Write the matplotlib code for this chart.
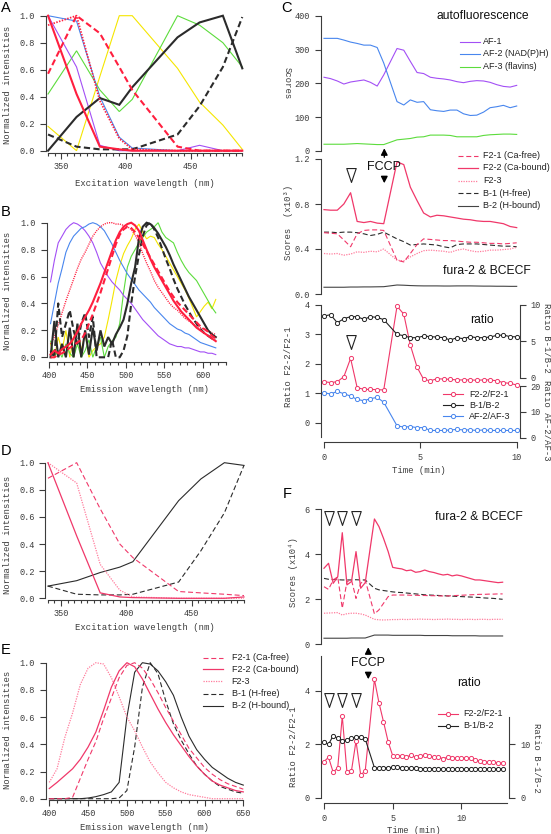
import matplotlib
matplotlib.use('Agg')
import matplotlib.pyplot as plt
from matplotlib.lines import Line2D
from matplotlib.patches import FancyArrowPatch
from matplotlib.path import Path

plt.rcParams['font.family'] = ['Liberation Mono', 'DejaVu Sans Mono']

W, H = 551, 834
fig = plt.figure(figsize=(W / 100, H / 100), dpi=100)

# ---------------- data ----------------
exc_wl = [340, 362, 380, 395, 405, 440, 457, 475, 490]
A_af1 = [1.0, 0.62, 0.04, 0.0, 0.0, 0.0, 0.04, 0.0, 0.0]
A_af2 = [1.0, 0.96, 0.40, 0.10, 0.02, 0.0, 0.0, 0.0, 0.0]
A_af3 = [0.42, 0.74, 0.45, 0.29, 0.38, 1.0, 0.93, 0.80, 0.62]
A_yel = [0.18, 0.0, 0.55, 1.0, 1.0, 0.61, 0.36, 0.19, 0.01]
A_f21 = [0.57, 1.0, 0.87, 0.62, 0.45, 0.03, 0.0, 0.0, 0.0]
A_f22 = [1.0, 0.42, 0.03, 0.01, 0.0, 0.0, 0.0, 0.0, 0.0]
A_f23 = [0.93, 1.0, 0.37, 0.09, 0.01, 0.0, 0.0, 0.0, 0.0]
A_b1 = [0.12, 0.03, 0.01, 0.01, 0.01, 0.12, 0.33, 0.62, 0.99]
A_b2 = [0.0, 0.25, 0.39, 0.34, 0.47, 0.84, 0.95, 1.0, 0.61]

em_wl = [402, 407, 412, 417, 422, 427, 432, 437, 442, 447,
         452, 457, 462, 467, 472, 477, 482, 487, 492, 497,
         502, 507, 512, 517, 522, 527, 532, 537, 542, 547,
         552, 557, 562, 567, 572, 577, 582, 587, 592, 597,
         602, 607, 612, 617]
B_af1 = [0.56, 0.72, 0.85, 0.90, 0.95, 0.98, 1.00, 0.99, 0.97, 0.94,
         0.90, 0.85, 0.78, 0.70, 0.65, 0.60, 0.56, 0.53, 0.50, 0.46,
         0.43, 0.40, 0.36, 0.32, 0.28, 0.25, 0.22, 0.19, 0.16, 0.14,
         0.12, 0.10, 0.09, 0.08, 0.08, 0.07, 0.07, 0.06, 0.05, 0.04,
         0.04, 0.03, 0.03, 0.02]
B_af2 = [0.25, 0.40, 0.55, 0.66, 0.78, 0.85, 0.90, 0.93, 0.96, 0.97,
         0.99, 1.00, 0.99, 0.97, 0.94, 0.89, 0.84, 0.78, 0.72, 0.67,
         0.62, 0.58, 0.54, 0.50, 0.47, 0.44, 0.41, 0.37, 0.34, 0.31,
         0.28, 0.25, 0.23, 0.21, 0.20, 0.18, 0.17, 0.15, 0.13, 0.11,
         0.10, 0.09, 0.08, 0.07]
B_af3 = [0.12, 0.00, 0.05, 0.00, 0.10, 0.03, 0.00, 0.10, 0.00, 0.05,
         0.13, 0.00, 0.08, 0.15, 0.00, 0.08, 0.12, 0.15, 0.25, 0.48,
         0.67, 0.75, 0.80, 0.85, 0.89, 0.93, 0.95, 0.97, 1.00, 0.93,
         0.89, 0.87, 0.85, 0.78, 0.72, 0.67, 0.63, 0.60, 0.57, 0.52,
         0.47, 0.42, 0.37, 0.33]
B_yel = [0.10, 0.00, 0.15, 0.05, 0.20, 0.00, 0.15, 0.22, 0.05, 0.18,
         0.00, 0.05, 0.08, 0.10, 0.15, 0.28, 0.42, 0.57, 0.68, 0.77,
         0.83, 0.88, 0.95, 0.99, 0.93, 0.88, 0.90, 0.89, 0.84, 0.80,
         0.75, 0.70, 0.65, 0.60, 0.55, 0.50, 0.44, 0.37, 0.30, 0.34,
         0.38, 0.41, 0.36, 0.43]
B_f21 = [0.00, 0.00, 0.02, 0.03, 0.05, 0.07, 0.09, 0.11, 0.13, 0.18,
         0.25, 0.32, 0.40, 0.48, 0.57, 0.66, 0.75, 0.84, 0.91, 0.95,
         0.97, 0.96, 0.93, 0.89, 0.84, 0.79, 0.74, 0.69, 0.64, 0.59,
         0.54, 0.49, 0.45, 0.41, 0.38, 0.35, 0.32, 0.29, 0.26, 0.23,
         0.21, 0.19, 0.16, 0.14]
B_f22 = [0.02, 0.05, 0.03, 0.06, 0.08, 0.10, 0.14, 0.19, 0.25, 0.30,
         0.35, 0.41, 0.48, 0.55, 0.63, 0.71, 0.79, 0.87, 0.93, 0.97,
         0.99, 1.00, 0.98, 0.94, 0.87, 0.80, 0.73, 0.67, 0.62, 0.57,
         0.52, 0.47, 0.42, 0.38, 0.34, 0.31, 0.28, 0.25, 0.22, 0.20,
         0.18, 0.16, 0.14, 0.12]
B_f23 = [0.10, 0.15, 0.24, 0.33, 0.42, 0.50, 0.58, 0.66, 0.73, 0.78,
         0.84, 0.90, 0.94, 0.97, 0.99, 1.00, 1.00, 0.99, 0.99, 0.98,
         0.97, 0.95, 0.91, 0.85, 0.77, 0.70, 0.64, 0.57, 0.52, 0.48,
         0.44, 0.40, 0.37, 0.35, 0.32, 0.29, 0.27, 0.25, 0.23, 0.22,
         0.21, 0.20, 0.18, 0.17]
B_b1 = [0.05, 0.00, 0.40, 0.15, 0.25, 0.35, 0.20, 0.10, 0.25, 0.33,
        0.15, 0.30, 0.00, 0.00, 0.00, 0.00, 0.13, 0.00, 0.00, 0.05,
        0.16, 0.40, 0.60, 0.76, 0.90, 0.98, 1.00, 0.95, 0.89, 0.81,
        0.73, 0.66, 0.58, 0.51, 0.45, 0.39, 0.34, 0.29, 0.25, 0.21,
        0.18, 0.16, 0.14, 0.13]
B_b2 = [0.00, 0.27, 0.00, 0.10, 0.00, 0.22, 0.00, 0.25, 0.00, 0.20,
        0.02, 0.22, 0.05, 0.20, 0.08, 0.15, 0.10, 0.17, 0.22, 0.28,
        0.40, 0.55, 0.67, 0.88, 0.97, 1.00, 0.99, 0.96, 0.92, 0.87,
        0.82, 0.76, 0.69, 0.63, 0.57, 0.51, 0.45, 0.40, 0.35, 0.30,
        0.25, 0.20, 0.17, 0.15]

tC = [0.00, 0.34, 0.69, 1.03, 1.38, 1.72, 2.07, 2.41, 2.76, 3.10,
      3.79, 4.14, 4.48, 4.83, 5.17, 5.52, 5.86, 6.21, 6.55, 6.90,
      7.24, 7.59, 7.93, 8.28, 8.62, 8.97, 9.31, 9.66, 10.00]
C_af1 = [218, 214, 207, 198, 204, 207, 210, 203, 192, 225, 303, 298, 265, 232, 229,
         218, 215, 213, 210, 205, 202, 206, 208, 207, 203, 196, 191, 189, 194]
C_af2 = [333, 333, 333, 328, 322, 318, 313, 313, 306, 260, 146, 136, 151, 144, 146,
         122, 119, 117, 121, 121, 110, 105, 106, 115, 128, 131, 135, 128, 133]
C_af3 = [20, 20, 20, 20, 21, 22, 21, 20, 19, 19, 33, 35, 37, 41, 42,
         47, 47, 47, 46, 42, 42, 42, 42, 46, 48, 49, 50, 50, 49]
C_f21 = [0.545, 0.54, 0.535, 0.48, 0.42, 0.535, 0.565, 0.57, 0.57, 0.565, 0.30, 0.285,
         0.36, 0.44, 0.49, 0.485, 0.48, 0.475, 0.475, 0.47, 0.465, 0.46, 0.46, 0.455,
         0.45, 0.45, 0.445, 0.45, 0.455]
C_f22 = [0.75, 0.745, 0.745, 0.80, 0.90, 0.645, 0.635, 0.645, 0.63, 0.625, 1.175, 1.15,
         0.95, 0.83, 0.72, 0.685, 0.70, 0.695, 0.685, 0.675, 0.665, 0.66, 0.65, 0.645,
         0.645, 0.635, 0.625, 0.60, 0.59]
C_f23 = [0.36, 0.355, 0.36, 0.345, 0.355, 0.375, 0.37, 0.38, 0.375, 0.40, 0.30, 0.295,
         0.33, 0.36, 0.385, 0.39, 0.385, 0.38, 0.37, 0.39, 0.40, 0.385, 0.375, 0.38,
         0.39, 0.39, 0.395, 0.40, 0.415]
C_b1 = [0.55, 0.55, 0.545, 0.55, 0.55, 0.545, 0.535, 0.52, 0.53, 0.55, 0.49, 0.465,
        0.435, 0.44, 0.445, 0.44, 0.435, 0.42, 0.41, 0.44, 0.445, 0.445, 0.445, 0.44,
        0.435, 0.43, 0.425, 0.425, 0.42]
C_b2 = [0.06, 0.06, 0.06, 0.06, 0.062, 0.062, 0.063, 0.063, 0.064, 0.065, 0.08, 0.078,
        0.075, 0.073, 0.072, 0.072, 0.072, 0.071, 0.071, 0.072, 0.072, 0.072, 0.071,
        0.070, 0.070, 0.069, 0.069, 0.068, 0.068]
C_rf = [1.39, 1.36, 1.39, 1.56, 2.18, 1.19, 1.13, 1.13, 1.12, 1.11, 3.95, 3.68, 2.63,
        1.88, 1.47, 1.42, 1.49, 1.48, 1.47, 1.45, 1.45, 1.45, 1.44, 1.45, 1.45, 1.42,
        1.36, 1.33, 1.28]
C_rb = [8.45, 8.63, 7.53, 8.08, 8.36, 8.36, 7.99, 8.36, 8.26, 7.95, 5.94, 5.75, 5.48,
        5.48, 5.71, 5.62, 5.57, 5.48, 5.16, 5.48, 5.34, 5.62, 5.48, 5.48, 5.57, 5.80,
        5.84, 5.62, 5.60]
C_raf = [17.4, 16.9, 17.9, 17.0, 16.1, 14.8, 14.3, 15.1, 15.6, 13.7, 4.6, 4.1, 4.3,
         3.9, 3.9, 2.8, 2.8, 2.8, 3.0, 3.2, 3.0, 3.0, 2.8, 3.0, 2.8, 2.8, 2.8, 2.8, 2.8]

D_f21 = [0.885, 1.0, 0.66, 0.40, 0.30, 0.05, 0.04, 0.03, 0.02]
D_f22 = [1.0, 0.46, 0.04, 0.01, 0.005, 0.0, 0.0, 0.0, 0.01]
D_f23 = [1.0, 0.85, 0.25, 0.06, 0.01, 0.0, 0.0, 0.0, 0.0]
D_b1 = [0.09, 0.03, 0.025, 0.025, 0.03, 0.12, 0.35, 0.63, 0.98]
D_b2 = [0.09, 0.13, 0.19, 0.23, 0.27, 0.72, 0.88, 1.0, 0.98]

em2_wl = [400, 410, 420, 430, 440, 450, 460, 470, 480, 490, 500, 510, 520,
          530, 540, 550, 560, 570, 580, 590, 600, 610, 620, 630, 640, 650]
E_f21 = [0.0, 0.0, 0.0, 0.01, 0.15, 0.29, 0.42, 0.59, 0.74, 0.89, 0.98, 1.0, 0.96,
         0.88, 0.78, 0.67, 0.57, 0.47, 0.37, 0.30, 0.23, 0.18, 0.14, 0.11, 0.09, 0.07]
E_f22 = [0.075, 0.12, 0.17, 0.22, 0.29, 0.38, 0.49, 0.65, 0.82, 0.94, 1.0, 0.97, 0.88,
         0.77, 0.66, 0.56, 0.47, 0.39, 0.31, 0.24, 0.18, 0.13, 0.10, 0.08, 0.06, 0.05]
E_f23 = [0.12, 0.22, 0.45, 0.63, 0.84, 0.96, 1.0, 0.99, 0.89, 0.75, 0.60, 0.50, 0.38,
         0.27, 0.19, 0.12, 0.08, 0.05, 0.03, 0.02, 0.01, 0.0, 0.0, 0.0, 0.0, 0.0]
E_b1 = [0.0, 0.0, 0.0, 0.0, 0.0, 0.0, 0.0, 0.0, 0.0, 0.005, 0.06, 0.38, 0.82,
        1.0, 0.92, 0.72, 0.55, 0.43, 0.33, 0.24, 0.18, 0.13, 0.09, 0.07, 0.05, 0.04]
E_b2 = [0.0, 0.0, 0.0, 0.0, 0.0, 0.005, 0.015, 0.03, 0.05, 0.12, 0.60, 0.93, 1.0,
        0.99, 0.94, 0.86, 0.76, 0.60, 0.46, 0.36, 0.29, 0.23, 0.19, 0.15, 0.12, 0.10]

tF = [0.00, 0.33, 0.67, 1.00, 1.33, 1.67, 2.00, 2.33, 2.67, 3.00,
      3.67, 4.00, 4.33, 4.67, 5.00, 5.33, 5.67, 6.00, 6.33, 6.67,
      7.00, 7.33, 7.67, 8.00, 8.33, 8.67, 9.00, 9.33, 9.67, 10.00,
      10.33, 10.67, 11.00, 11.33, 11.67, 12.00, 12.33, 12.67, 13.00]
F_f22 = [3.38, 3.60, 2.71, 3.00, 4.96, 2.64, 2.79, 4.12, 2.49, 2.74, 5.57, 5.23, 4.71,
         4.12, 3.42, 3.38, 3.35, 3.27, 3.30, 3.20, 3.23, 3.30, 3.23, 3.19, 3.13, 3.08,
         3.11, 3.04, 3.08, 3.04, 2.98, 2.92, 2.86, 2.86, 2.83, 2.80, 2.77, 2.74, 2.76]
F_f21 = [2.56, 2.44, 2.86, 3.00, 1.60, 2.79, 2.86, 2.04, 2.71, 2.86, 1.35, 1.53, 1.82,
         2.12, 2.19, 2.19, 2.19, 2.19, 2.18, 2.18, 2.17, 2.17, 2.16, 2.16, 2.15, 2.15,
         2.15, 2.16, 2.17, 2.18, 2.19, 2.20, 2.21, 2.22, 2.22, 2.23, 2.23, 2.24, 2.24]
F_f23 = [1.38, 1.39, 1.40, 1.41, 1.30, 1.36, 1.38, 1.38, 1.35, 1.30, 1.11, 1.09, 1.08,
         1.09, 1.10, 1.10, 1.11, 1.10, 1.11, 1.11, 1.12, 1.11, 1.11, 1.10, 1.11, 1.11,
         1.12, 1.11, 1.11, 1.10, 1.11, 1.11, 1.10, 1.11, 1.11, 1.10, 1.11, 1.11, 1.11]
F_b1 = [2.93, 2.89, 2.88, 2.87, 2.86, 2.86, 2.86, 2.87, 2.86, 2.86, 2.49, 2.42, 2.39,
        2.36, 2.33, 2.31, 2.30, 2.28, 2.26, 2.24, 2.22, 2.20, 2.19, 2.18, 2.17, 2.16,
        2.15, 2.14, 2.13, 2.12, 2.11, 2.10, 2.09, 2.08, 2.06, 2.05, 2.04, 2.02, 2.00]
F_b2 = [0.27, 0.27, 0.27, 0.27, 0.27, 0.27, 0.28, 0.28, 0.28, 0.28, 0.41, 0.41, 0.41,
        0.41, 0.40, 0.40, 0.40, 0.40, 0.40, 0.40, 0.40, 0.39, 0.39, 0.39, 0.39, 0.39,
        0.39, 0.38, 0.38, 0.38, 0.38, 0.38, 0.38, 0.37, 0.37, 0.37, 0.37, 0.37, 0.37]
F_rf = [1.35, 1.51, 0.95, 1.12, 3.05, 0.95, 1.01, 2.12, 0.85, 1.00, 4.42, 3.55, 2.84,
        2.09, 1.57, 1.56, 1.56, 1.53, 1.58, 1.51, 1.56, 1.60, 1.56, 1.51, 1.51, 1.46,
        1.51, 1.47, 1.50, 1.47, 1.50, 1.47, 1.41, 1.37, 1.35, 1.32, 1.32, 1.31, 1.28]
F_rb = [10.3, 9.94, 11.55, 11.06, 10.62, 10.75, 11.06, 11.3, 11.37, 10.93, 5.59, 5.47,
        5.59, 5.59, 5.65, 5.65, 5.59, 5.53, 5.47, 5.47, 5.40, 5.40, 5.40, 5.40, 5.34,
        5.34, 5.34, 5.34, 5.34, 5.34, 5.34, 5.34, 5.34, 5.34, 5.34, 5.34, 5.34, 5.34, 5.34]

# ---------------- style ----------------
INK = '#3c3c3c'
SANS = ['Liberation Sans', 'DejaVu Sans']
TICK_FS = 6.2
LAB_FS = 6.4
PURPLE = '#a34ff5'
BLUE = '#4886ee'
GREEN = '#5cdc3c'
YELLOW = '#f5e600'
RED = '#ff1f3f'
DARK = '#2b2b2b'
PINK = '#f0386a'
LPINK = '#ff7d9d'


def lin(v, v1, p1, v2, p2):
    return p1 + (v - v1) * (p2 - p1) / (v2 - v1)


def px2v(p, ref):
    return lin(p, ref[1], ref[0], ref[3], ref[2])


def style(ax, clear_x=True):
    ax.patch.set_visible(False)
    for s in ax.spines.values():
        s.set_visible(False)
        s.set_color(INK)
        s.set_linewidth(0.8)
    ax.tick_params(which='both', direction='out', color=INK, labelcolor=INK,
                   labelsize=TICK_FS, width=0.8)
    ax.tick_params(which='major', length=4.3)
    ax.tick_params(which='minor', length=2.2)
    ax.tick_params(axis='y', pad=3.5)
    ax.tick_params(axis='x', pad=2.5)
    if clear_x:
        ax.set_xticks([])
    ax.set_yticks([])


def make_ax(xl, xref, top, bot, yref):
    left = lin(xl[0], *xref)
    right = lin(xl[1], *xref)
    ax = fig.add_axes([left / W, 1 - bot / H, (right - left) / W, (bot - top) / H])
    ax.set_xlim(xl)
    ax.set_ylim(px2v(bot, yref), px2v(top, yref))
    style(ax)
    return ax


def left_axis(ax, lo, hi, ticks, labels):
    ax.spines['left'].set_visible(True)
    ax.spines['left'].set_bounds(lo, hi)
    ax.set_yticks(ticks)
    ax.set_yticklabels(labels)


def right_axis(ax, lo, hi, ticks, labels):
    ax.spines['right'].set_visible(True)
    ax.spines['right'].set_bounds(lo, hi)
    ax.yaxis.tick_right()
    ax.set_yticks(ticks)
    ax.set_yticklabels(labels)


def bottom_axis(ax, lo, hi, ticks, labels, minor=None):
    ax.spines['bottom'].set_visible(True)
    ax.spines['bottom'].set_bounds(lo, hi)
    ax.set_xticks(ticks)
    ax.set_xticklabels(labels)
    if minor is not None:
        ax.set_xticks(minor, minor=True)


def ftext(x, y, s, **kw):
    kw.setdefault('ha', 'center')
    kw.setdefault('va', 'center')
    kw.setdefault('color', INK)
    fig.text(x / W, 1 - y / H, s, **kw)


MS = 3.0


def leg_entry(x0, x1, xt, y, label, marker=None, **kw):
    fig.add_artist(Line2D([x0 / W, x1 / W], [1 - y / H, 1 - y / H],
                          transform=fig.transFigure, **kw))
    if marker:
        fig.add_artist(Line2D([(x0 + x1) / 2 / W], [1 - y / H], transform=fig.transFigure,
                              marker='o', ms=MS, mfc='white', mew=0.7,
                              mec=kw.get('color', 'k'), ls='none'))
    ftext(xt, y, label, ha='left', fontsize=6.5, family=SANS, color='#222222')


def arrow(x, y0, y1):
    fig.add_artist(FancyArrowPatch((x / W, 1 - y0 / H), (x / W, 1 - y1 / H),
                                   transform=fig.transFigure,
                                   arrowstyle='-|>,head_length=0.55,head_width=0.28',
                                   mutation_scale=7, lw=1.0, color='black'))


TRI = Path([(-0.34, 0.5), (0.34, 0.5), (0.0, -0.5), (-0.34, 0.5)],
           [Path.MOVETO, Path.LINETO, Path.LINETO, Path.CLOSEPOLY])


def tri(ax, x, y):
    ax.plot([x], [y], marker=TRI, ms=10, mfc='white', mec='#222222', mew=0.8,
            ls='none', clip_on=False)


wl_ticks = ['%d' % v for v in [350, 400, 450]]
yt01 = [0, 0.2, 0.4, 0.6, 0.8, 1.0]
yt01_lab = ['0.0', '0.2', '0.4', '0.6', '0.8', '1.0']

# ---------------- panel A ----------------
axA = make_ax((338.1, 492), (350, 61, 450, 190.5), 12, 153, (0, 150.7, 1, 15.7))
left_axis(axA, 0, 1, yt01, yt01_lab)
bottom_axis(axA, 340, 490, [350, 400, 450], wl_ticks, minor=list(range(340, 491, 5)))
kwA = dict(clip_on=False, solid_joinstyle='miter')
axA.plot(exc_wl, A_yel, color=YELLOW, lw=0.8, **kwA)
axA.plot(exc_wl, A_af3, color=GREEN, lw=0.8, **kwA)
axA.plot(exc_wl, A_af1, color=PURPLE, lw=0.8, **kwA)
axA.plot(exc_wl, A_af2, color=BLUE, lw=0.8, **kwA)
axA.plot(exc_wl, A_b1, color=DARK, lw=1.5, dashes=(3, 1.6), **kwA)
axA.plot(exc_wl, A_b2, color=DARK, lw=1.5, **kwA)
axA.plot(exc_wl, A_f21, color=RED, lw=1.5, dashes=(3, 1.6), **kwA)
axA.plot(exc_wl, A_f23, color=RED, lw=1.3, dashes=(0.8, 0.8), **kwA)
axA.plot(exc_wl, A_f22, color=RED, lw=1.5, **kwA)
ftext(7.3, 85, 'Normalized intensities', rotation=90, fontsize=LAB_FS)
ftext(145, 183, 'Excitation wavelength (nm)', fontsize=LAB_FS)

# ---------------- panel B ----------------
axB = make_ax((397, 632), (400, 49, 600, 202.7), 218, 361.7, (0, 357.3, 1, 222.7))
left_axis(axB, 0, 1, yt01, yt01_lab)
bottom_axis(axB, 400, 630, [400, 450, 500, 550, 600], ['400', '450', '500', '550', '600'],
            minor=list(range(400, 631, 10)))
axB.plot(em_wl, B_yel, color=YELLOW, lw=0.8, **kwA)
axB.plot(em_wl, B_af3, color=GREEN, lw=0.8, **kwA)
axB.plot(em_wl, B_af1, color=PURPLE, lw=0.8, **kwA)
axB.plot(em_wl, B_af2, color=BLUE, lw=0.8, **kwA)
axB.plot(em_wl, B_f23, color=RED, lw=1.0, dashes=(0.8, 0.8), **kwA)
axB.plot(em_wl, B_b1, color=DARK, lw=1.5, dashes=(3, 1.6), **kwA)
axB.plot(em_wl, B_b2, color=DARK, lw=1.5, **kwA)
axB.plot(em_wl, B_f21, color=RED, lw=1.5, dashes=(3, 1.6), **kwA)
axB.plot(em_wl, B_f22, color=RED, lw=1.5, **kwA)
ftext(7.3, 291, 'Normalized intensities', rotation=90, fontsize=LAB_FS)
ftext(145, 390, 'Emission wavelength (nm)', fontsize=LAB_FS)

# ---------------- panel D ----------------
axD = make_ax((338.1, 492), (350, 61, 450, 191.7), 458, 600, (0, 598.3, 1, 462.7))
left_axis(axD, 0, 1, yt01, yt01_lab)
bottom_axis(axD, 340, 490, [350, 400, 450], wl_ticks, minor=list(range(340, 491, 5)))
axD.plot(exc_wl, D_b1, color=DARK, lw=0.8, dashes=(4.5, 2.5), **kwA)
axD.plot(exc_wl, D_b2, color=DARK, lw=0.8, **kwA)
axD.plot(exc_wl, D_f23, color=LPINK, lw=0.9, dashes=(1, 1), **kwA)
axD.plot(exc_wl, D_f21, color=PINK, lw=0.8, dashes=(4.5, 2.5), **kwA)
axD.plot(exc_wl, D_f22, color=PINK, lw=0.9, **kwA)
ftext(7.3, 535, 'Normalized intensities', rotation=90, fontsize=LAB_FS)
ftext(145, 627, 'Excitation wavelength (nm)', fontsize=LAB_FS)

# ---------------- panel E ----------------
axE = make_ax((395.4, 652), (400, 49.3, 650, 243.3), 658, 800, (0, 798.7, 1, 662.7))
left_axis(axE, 0, 1, yt01, yt01_lab)
bottom_axis(axE, 400, 650, [400, 450, 500, 550, 600, 650],
            ['400', '450', '500', '550', '600', '650'], minor=list(range(400, 651, 10)))
axE.plot(em2_wl, E_b1, color=DARK, lw=0.8, dashes=(4.5, 2.5), **kwA)
axE.plot(em2_wl, E_b2, color=DARK, lw=0.8, **kwA)
axE.plot(em2_wl, E_f23, color=LPINK, lw=0.9, dashes=(1, 1), **kwA)
axE.plot(em2_wl, E_f21, color=PINK, lw=0.8, dashes=(4.5, 2.5), **kwA)
axE.plot(em2_wl, E_f22, color=PINK, lw=0.9, **kwA)
ftext(7.3, 730, 'Normalized intensities', rotation=90, fontsize=LAB_FS)
ftext(145, 827.5, 'Emission wavelength (nm)', fontsize=LAB_FS)
legE = [('F2-1 (Ca-free)', dict(color=PINK, lw=0.8, dashes=(4.5, 2.5))),
        ('F2-2 (Ca-bound)', dict(color=PINK, lw=0.9)),
        ('F2-3', dict(color=LPINK, lw=0.9, dashes=(1, 1))),
        ('B-1 (H-free)', dict(color=DARK, lw=0.8, dashes=(4.5, 2.5))),
        ('B-2 (H-bound)', dict(color=DARK, lw=0.8))]
for (lab, kw), y in zip(legE, [657.7, 669.3, 681.3, 693.5, 705.7]):
    leg_entry(203, 223, 231.5, y, lab, **kw)

# ---------------- panel C ----------------
xC = (-0.17, 10.17)
refCx = (0, 324, 10, 516.7)
axC1 = make_ax(xC, refCx, 10, 153, (0, 151, 400, 15.7))
left_axis(axC1, 0, 400, [0, 100, 200, 300, 400], ['0', '100', '200', '300', '400'])
axC1.plot(tC, C_af1, color=PURPLE, lw=0.8, clip_on=False)
axC1.plot(tC, C_af2, color=BLUE, lw=0.8, clip_on=False)
axC1.plot(tC, C_af3, color=GREEN, lw=0.8, clip_on=False)
ftext(286.7, 83, 'Scores', rotation=270, fontsize=LAB_FS)
ftext(436.7, 16, 'autofluorescence', ha='left', fontsize=8.7, family=SANS, color='#111111')
for (lab, col), y in zip([('AF-1', PURPLE), ('AF-2 (NAD(P)H)', BLUE), ('AF-3 (flavins)', GREEN)],
                         [41.7, 53.7, 66.7]):
    leg_entry(460, 480, 483.3, y, lab, color=col, lw=0.8)

axC2 = make_ax(xC, refCx, 152, 296, (0, 294, 1.2, 159))
left_axis(axC2, 0, 1.2, [0, 0.4, 0.8, 1.2], ['0.0', '0.4', '0.8', '1.2'])
axC2.plot(tC, C_b2, color='#444444', lw=0.8, clip_on=False)
axC2.plot(tC, C_b1, color=DARK, lw=0.8, dashes=(4.5, 2.5), clip_on=False)
axC2.plot(tC, C_f23, color=LPINK, lw=0.9, dashes=(1, 1), clip_on=False)
axC2.plot(tC, C_f21, color=PINK, lw=0.8, dashes=(4.5, 2.5), clip_on=False)
axC2.plot(tC, C_f22, color=PINK, lw=0.9, clip_on=False)
tri(axC2, tC[4], 1.058)
ftext(288.3, 222, 'Scores  (x10\u00b3)', rotation=90, fontsize=LAB_FS)
ftext(443.3, 271, 'fura-2 & BCECF', ha='left', fontsize=8.7, family=SANS, color='#111111')
legC = [('F2-1 (Ca-free)', dict(color=PINK, lw=0.8, dashes=(4.5, 2.5))),
        ('F2-2 (Ca-bound)', dict(color=PINK, lw=0.9)),
        ('F2-3', dict(color=LPINK, lw=0.9, dashes=(1, 1))),
        ('B-1 (H-free)', dict(color=DARK, lw=0.8, dashes=(4.5, 2.5))),
        ('B-2 (H-bound)', dict(color='#444444', lw=0.8))]
for (lab, kw), y in zip(legC, [155.7, 167.7, 180.7, 193.3, 206]):
    leg_entry(458.3, 478.3, 483.3, y, lab, **kw)
ftext(383.5, 167.5, 'FCCP', fontsize=9, family=SANS, color='#111111')
arrow(384.3, 160, 145.5)
arrow(384.3, 175.5, 186)

refC3 = (0, 422.7, 4, 304.7)
axC3 = make_ax(xC, refCx, 298, 441.7, refC3)
left_axis(axC3, -0.47, 4, [0, 1, 2, 3, 4], ['0', '1', '2', '3', '4'])
bottom_axis(axC3, 0, 10, [0, 5, 10], ['0', '5', '10'])
axC3.tick_params(axis='x', pad=3.5)
mk = dict(marker='o', ms=MS, mfc='white', mew=0.7, clip_on=False, lw=0.8)
axC3.plot(tC, C_rf, color=PINK, mec=PINK, **mk)
tri(axC3, tC[4], 2.75)
axC3b = axC3.twinx()
style(axC3b, clear_x=False)
refB = (0, 377.7, 10, 304.7)
axC3b.set_ylim(px2v(441.7, refB), px2v(298, refB))
right_axis(axC3b, 0, 10, [0, 5, 10], ['0', '5', '10'])
axC3b.plot(tC, C_rb, color='#222222', mec='#222222', **mk)
axC3c = axC3.twinx()
style(axC3c, clear_x=False)
refAF = (0, 437.7, 20, 386)
axC3c.set_ylim(px2v(441.7, refAF), px2v(298, refAF))
right_axis(axC3c, 0, 20, [0, 10, 20], ['0', '10', '20'])
axC3c.plot(tC, C_raf, color=BLUE, mec=BLUE, **mk)
ftext(288.3, 366.7, 'Ratio F2-2/F2-1', rotation=90, fontsize=LAB_FS)
ftext(546.5, 337.5, 'Ratio B-1/B-2', rotation=270, fontsize=LAB_FS)
ftext(546.5, 420, 'Ratio AF-2/AF-3', rotation=270, fontsize=LAB_FS)
ftext(419, 470.5, 'Time (min)', fontsize=LAB_FS)
ftext(470, 320, 'ratio', ha='left', fontsize=8.7, family=SANS, color='#111111')
for (lab, col), y in zip([('F2-2/F2-1', PINK), ('B-1/B-2', '#222222'), ('AF-2/AF-3', BLUE)],
                         [394.3, 405.3, 416.3]):
    leg_entry(442.7, 463.3, 469, y, lab, marker=True, color=col, lw=0.8)

# ---------------- panel F ----------------
xF = (-0.24, 13.49)
refFx = (0, 324, 5, 392.7)
axF1 = make_ax(xF, refFx, 505, 646, (0, 644.3, 6, 509.3))
left_axis(axF1, 0, 6, [0, 2, 4, 6], ['0', '2', '4', '6'])
axF1.plot(tF, F_b2, color='#444444', lw=0.8, clip_on=False)
axF1.plot(tF, F_b1, color=DARK, lw=0.8, dashes=(4.5, 2.5), clip_on=False)
axF1.plot(tF, F_f23, color=LPINK, lw=0.9, dashes=(1, 1), clip_on=False)
axF1.plot(tF, F_f21, color=PINK, lw=0.8, dashes=(4.5, 2.5), clip_on=False)
axF1.plot(tF, F_f22, color=PINK, lw=0.9, clip_on=False)
for i in (1, 4, 7):
    tri(axF1, tF[i], 5.6)
ftext(293.3, 571.7, 'Scores (x10\u2074)', rotation=90, fontsize=LAB_FS)
ftext(435, 516.7, 'fura-2 & BCECF', ha='left', fontsize=8.7, family=SANS, color='#111111')
ftext(368.3, 663.5, 'FCCP', fontsize=9, family=SANS, color='#111111')
arrow(368.3, 656, 644.5)
arrow(368.3, 671, 682)

refF2 = (0, 797.7, 4, 690.7)
axF2 = make_ax(xF, refFx, 650, 803.3, refF2)
left_axis(axF2, 0, 5.3, [0, 2, 4], ['0', '2', '4'])
bottom_axis(axF2, 0, 13.35, [0, 5, 10], ['0', '5', '10'])
axF2.tick_params(axis='x', pad=3.5)
axF2.plot(tF, F_rf, color=PINK, mec=PINK, **mk)
for i in (1, 4, 7):
    tri(axF2, tF[i], 3.65)
axF2b = axF2.twinx()
style(axF2b, clear_x=False)
refFB = (0, 797.7, 10, 744)
axF2b.set_ylim(px2v(803.3, refFB), px2v(650, refFB))
right_axis(axF2b, 0, 15, [0, 10], ['0', '10'])
axF2b.plot(tF, F_rb, color='#222222', mec='#222222', **mk)
ftext(293.3, 746.7, 'Ratio F2-2/F2-1', rotation=90, fontsize=LAB_FS)
ftext(536.7, 758, 'Ratio B-1/B-2', rotation=270, fontsize=LAB_FS)
ftext(414, 830.5, 'Time (min)', fontsize=LAB_FS)
ftext(456.7, 683.3, 'ratio', ha='left', fontsize=8.7, family=SANS, color='#111111')
for (lab, col), y in zip([('F2-2/F2-1', PINK), ('B-1/B-2', '#222222')], [714, 725.7]):
    leg_entry(438.3, 458.3, 463.3, y, lab, marker=True, color=col, lw=0.8)

# ---------------- panel letters ----------------
for lab, x, y in [('A', 0.5, 8), ('B', 0.5, 211.5), ('C', 281.5, 8.5),
                  ('D', 0.5, 451.3), ('E', 0.5, 650.5), ('F', 282.5, 494)]:
    ftext(x, y, lab, ha='left', fontsize=10.5, family=SANS, color='#000000')

fig.savefig('out.png', dpi=100)
